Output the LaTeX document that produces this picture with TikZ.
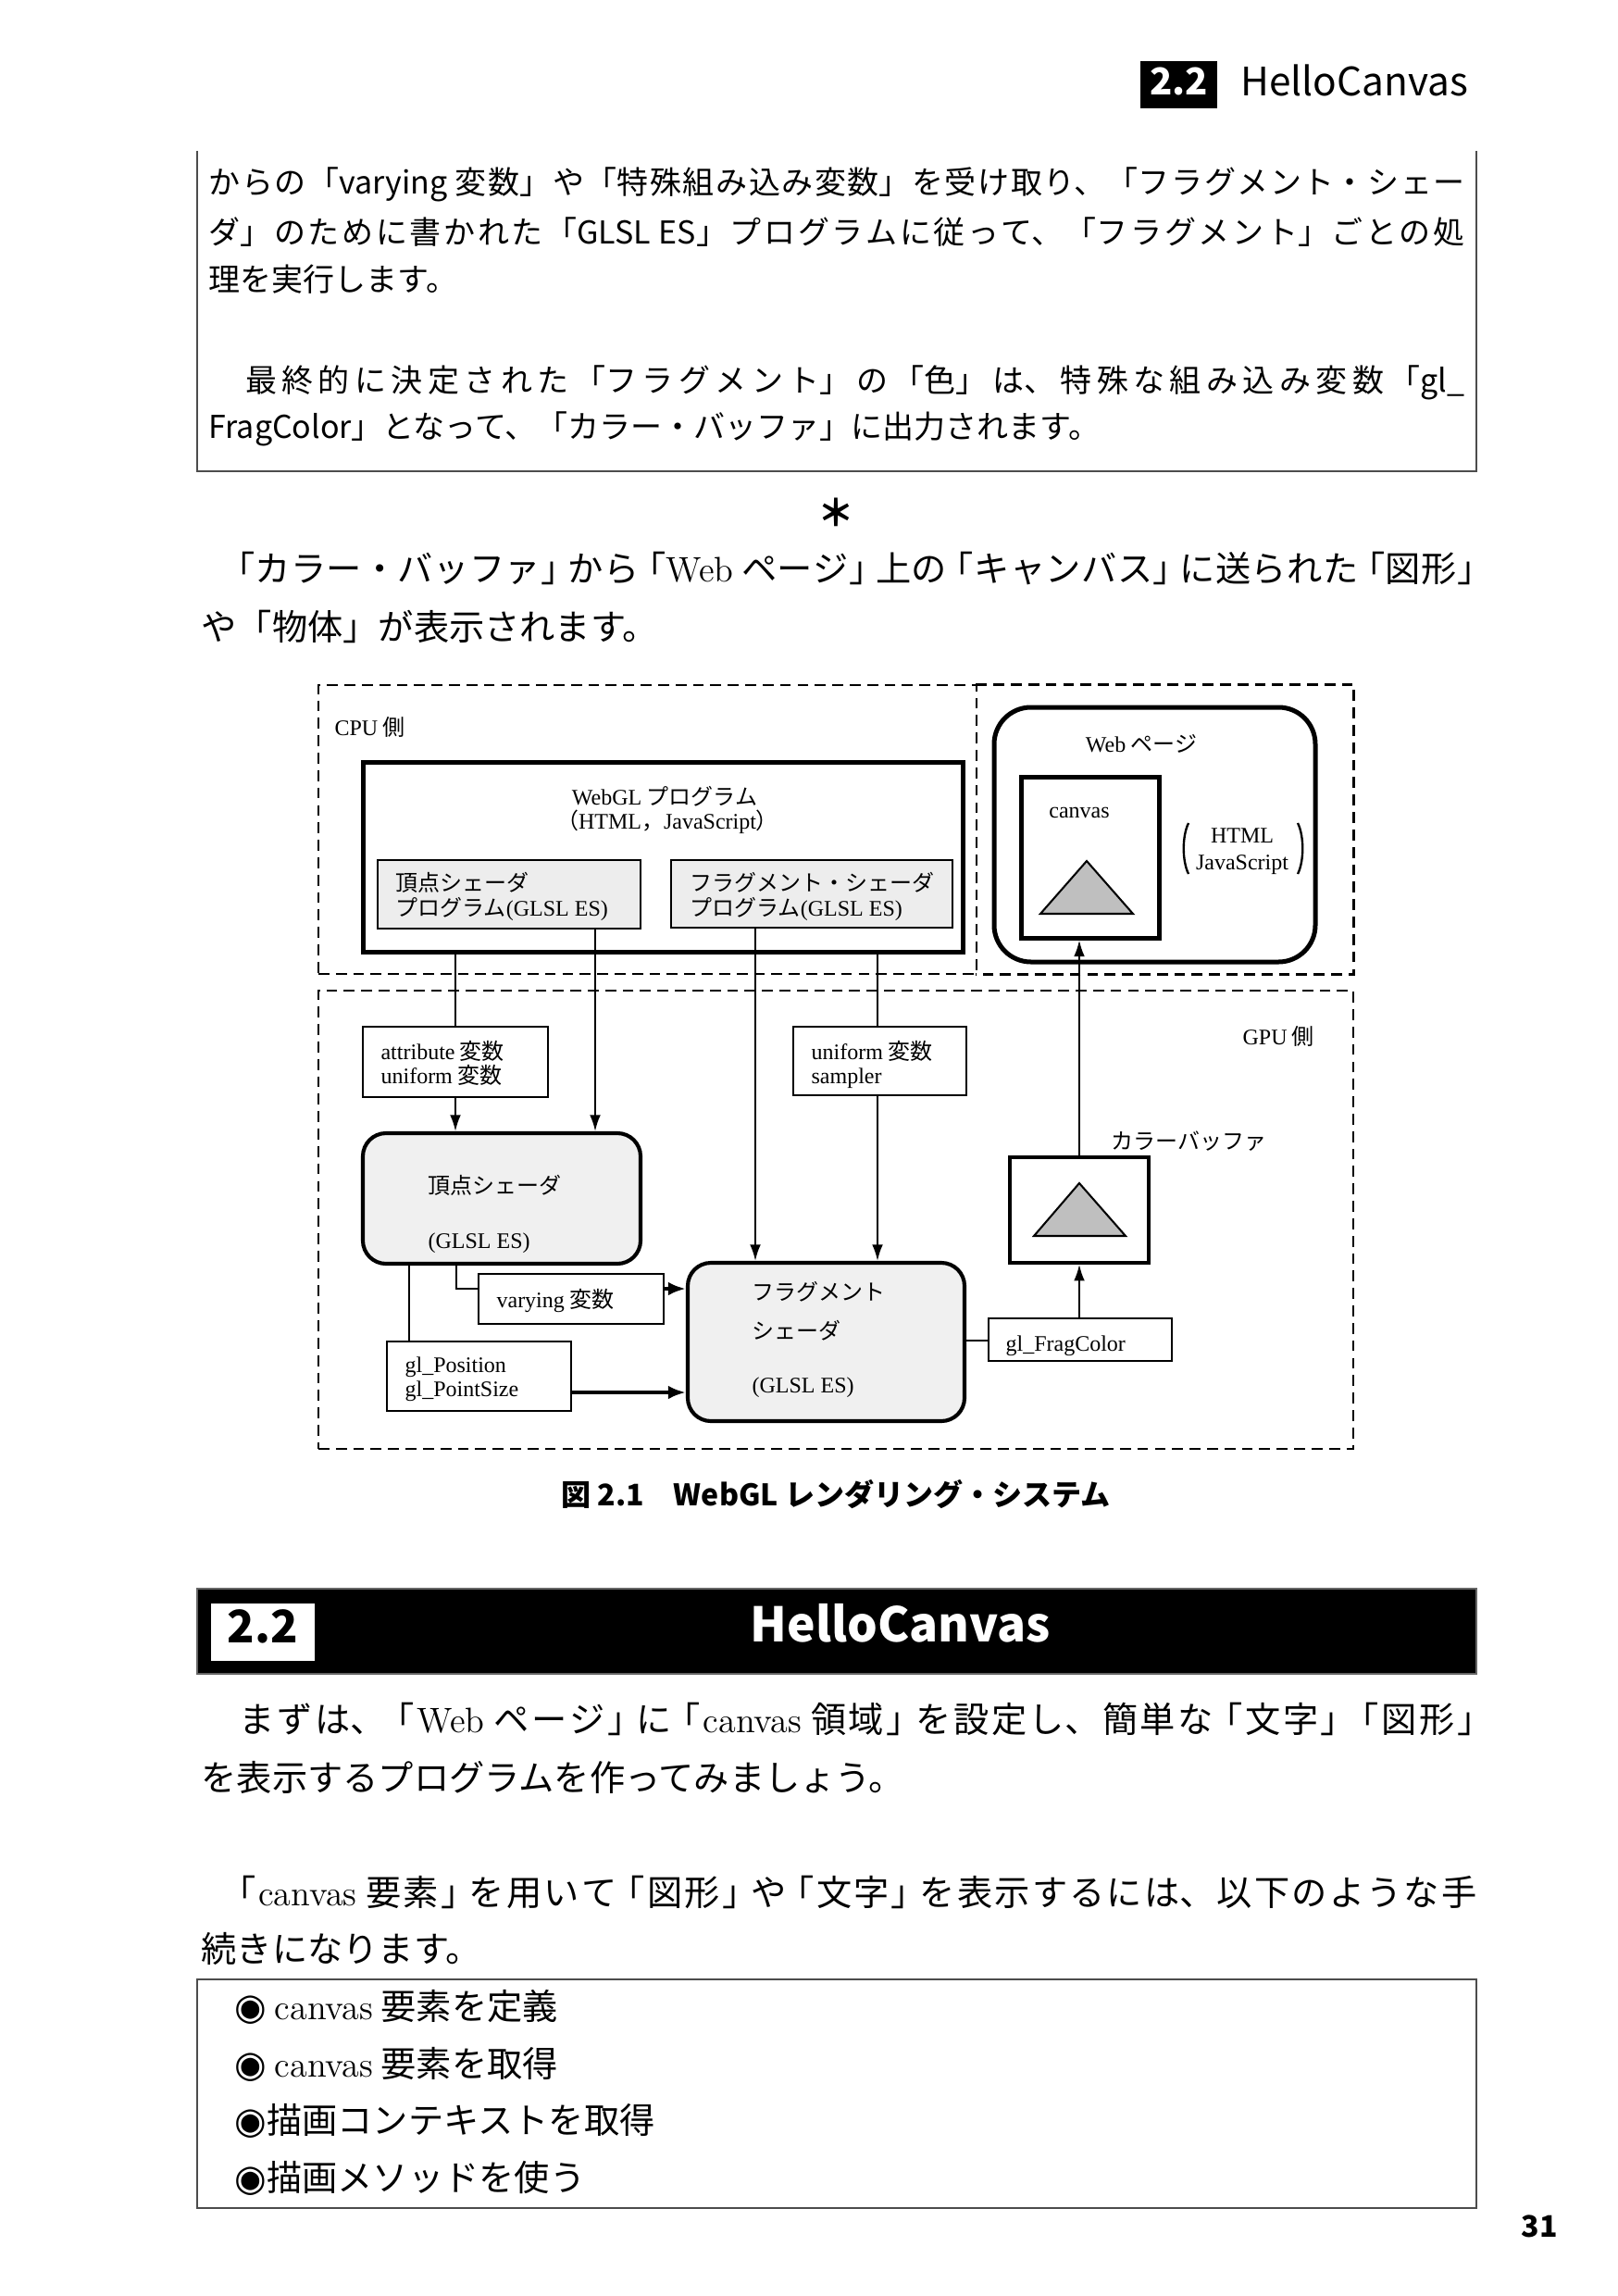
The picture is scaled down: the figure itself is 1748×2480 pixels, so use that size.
\documentclass[tikz,border=0pt]{standalone}
\usepackage{fontspec}
\setmainfont{Noto Sans CJK JP}
\newfontfamily\lat{Latin Modern Roman}
\newfontfamily\dl{Liberation Serif}
\newfontfamily\sym{DejaVu Sans}
\usetikzlibrary{arrows.meta,fit,calc}
\XeTeXlinebreaklocale "ja"
\XeTeXlinebreakskip=0pt plus 3pt minus 0.5pt
\XeTeXlinebreakpenalty=0
\newcommand\jg{\hskip 0pt plus 3pt minus 0.5pt\relax}
\newcommand\Lb{\jg\makebox[0.75em][r]{「}\jg}
\newcommand\Rb{\jg\makebox[0.75em][l]{」}\jg}
\begin{document}
\begin{tikzpicture}[x=0.34pt,y=-0.34pt,
  T/.style={inner sep=0pt,text height=0.88em,text depth=0.12em},
  dg/.style={T,anchor=west,font=\fontsize{8.16pt}{10pt}\selectfont},
  dgc/.style={T,anchor=center,font=\fontsize{8.16pt}{10pt}\selectfont},
  topl/.style={T,anchor=west,font=\fontsize{11.56pt}{14pt}\selectfont},
  bodyl/.style={T,anchor=west,font=\fontsize{13pt}{15pt}\selectfont},
  dpat/.style={dash pattern=on 4pt off 2.4pt,line width=0.9pt},
  dbox/.style={draw,dpat,inner sep=0pt},
  thickbox/.style={draw,line width=1.7pt,inner sep=0pt},
  thinbox/.style={draw,line width=0.9pt,inner sep=0pt},
  prog/.style={draw,line width=0.9pt,fill=black!7,inner sep=0pt},
  shader/.style={draw,line width=1.4pt,fill=black!6,rounded corners=8.5pt,inner sep=0pt},
  conn/.style={line width=0.7pt},
  arr/.style={conn,-{Latex[length=6pt,width=4pt]}},
  tarr/.style={line width=1.4pt,-{Latex[length=6.5pt,width=5pt]}},
  tri/.style={line width=0.7pt,fill=black!25,line join=miter}
]
\fill[white] (0,0) rectangle (1748,2480);
\useasboundingbox (0,0) rectangle (1748,2480);

% ---------- running header
\node[fill=black,inner sep=0pt,fit={(1232,66) (1315,117)}] (hnum) {};
\node[T,text=white,font=\bfseries\fontsize{13.6pt}{14pt}\selectfont] (hnumt) at (hnum.center) {2.2};
\node[T,anchor=west,font=\fontsize{14.4pt}{15pt}\selectfont] (htitle) at (1340,92) {HelloCanvas};

% ---------- top (continued) box
\draw[line width=0.6pt,black!70] (213,163) |- (1595,509) -- (1595,163);
\node[topl,text width=461.4pt,align=justify] (t1) at (225,198) {\noindent\parfillskip=0pt\relax からの「varying 変数」や「特殊組み込み変数」を受け取り、「フラグメント・シェー\par};
\node[topl,text width=461.4pt,align=justify] (t2) at (225,252) {\noindent\parfillskip=0pt\relax ダ」のために書かれた「GLSL ES」プログラムに従って、「フラグメント」ごとの処\par};
\node[topl] (t3) at (225,303) {理を実行します。};
\node[topl,text width=461.4pt,align=justify] (t4) at (225,412) {\noindent\parfillskip=0pt\relax 　最終的に決定された「フラグメント」の「色」は、特殊な組み込み変数「gl\_\par};
\node[topl] (t5) at (225,462) {FragColor」となって、「カラー・バッファ」に出力されます。};

% ---------- asterisk and paragraph
\node[T,font=\bfseries\fontsize{13.5pt}{14pt}\selectfont] (ast) at (903,557) {＊};
\node[bodyl,text width=471pt,align=justify] (b1) at (217,617) {\noindent\parfillskip=0pt\relax\hspace*{0.75em}\Lb カラー・バッファ\Rb から\Lb{\lat Web} ページ\Rb 上の\Lb キャンバス\Rb に送られた\Lb 図形\Rb\par};
\node[bodyl] (b2) at (217,680) {や「物体」が表示されます。};

% ---------- diagram: dashed regions
\node[dbox,fit={(344,740) (1055,1052)}] (cpu) {};
\node[inner sep=0pt,fit={(1055,740) (1462,1052)}] (webarea) {};
\draw[dpat] (webarea.north west) -| (webarea.south east) -- (webarea.south west);
\node[dbox,fit={(344,1070) (1462,1565)}] (gpu) {};

% ---------- diagram: boxes
\node[thickbox,fit={(392,823) (1040,1028)}] (webgl) {};
\node[prog,fit={(408,929) (692,1003)}] (vprog) {};
\node[prog,fit={(725,929) (1029,1002)}] (fprog) {};
\node[thickbox,rounded corners=13.5pt,fit={(1074,764) (1421,1039)}] (webpage) {};
\node[thickbox,fit={(1103,839) (1252,1013)}] (cvs) {};
\node[thinbox,fit={(392,1109) (592,1185)}] (attr) {};
\node[thinbox,fit={(857,1109) (1044,1183)}] (unif) {};
\node[shader,fit={(392,1224) (692,1365)}] (vsh) {};
\node[shader,fit={(743,1364) (1042,1535)}] (fsh) {};
\node[thinbox,fit={(517,1376) (717,1430)}] (vary) {};
\node[thinbox,fit={(418,1449) (617,1524)}] (glpos) {};
\node[thinbox,fit={(1068,1424) (1266,1470)}] (fragc) {};
\node[draw,line width=1.2pt,inner sep=0pt,fit={(1091,1250) (1241,1364)}] (cbuf) {};

% triangles and parentheses
\draw[tri] (1174,930) -- (1224,987) -- (1124,987) -- cycle;
\draw[tri] (1166,1278) -- (1216,1335) -- (1117,1335) -- cycle;
\draw[line width=0.8pt] (1284,889) .. controls (1277,903) and (1277,930) .. (1284,944);
\draw[line width=0.8pt] (1402,889) .. controls (1409,903) and (1409,930) .. (1402,944);

% ---------- diagram: texts
\node[dg] (tcpu) at (361,783) {{\dl CPU} 側};
\node[dgc] (twebgl) at (718,858) {{\dl WebGL} プログラム};
\node[dgc] (thtml) at (721,884) {（{\dl HTML}，{\dl JavaScript}）};
\node[dg] (tvp1) at (427,951) {頂点シェーダ};
\node[dg] (tvp2) at (427,978) {プログラム{\dl (GLSL ES)}};
\node[dg] (tfp1) at (745,951) {フラグメント・シェーダ};
\node[dg] (tfp2) at (745,978) {プログラム{\dl (GLSL ES)}};
\node[dgc] (tweb) at (1233,801) {{\dl Web} ページ};
\node[dgc] (tcvs) at (1166,872) {\dl canvas};
\node[dgc] (th1) at (1342,899) {\dl HTML};
\node[dgc] (th2) at (1342,928) {\dl JavaScript};
\node[dg] (ta1) at (411,1133) {{\dl attribute} 変数};
\node[dg] (ta2) at (411,1159) {{\dl uniform} 変数};
\node[dg] (tu1) at (876,1133) {{\dl uniform} 変数};
\node[dg] (tu2) at (876,1159) {\dl sampler};
\node[dg] (tgpu) at (1342,1117) {{\dl GPU} 側};
\node[dg] (tcb) at (1200,1230) {カラーバッファ};
\node[dg] (tvs1) at (462,1278) {頂点シェーダ};
\node[dg] (tvs2) at (462,1337) {\dl (GLSL ES)};
\node[dg] (tfs1) at (812,1393) {フラグメント};
\node[dg] (tfs2) at (812,1435) {シェーダ};
\node[dg] (tfs3) at (812,1493) {\dl (GLSL ES)};
\node[dg] (tvy) at (536,1401) {{\dl varying} 変数};
\node[dg] (tgp1) at (437,1471) {\dl gl\_Position};
\node[dg] (tgp2) at (437,1497) {\dl gl\_PointSize};
\node[dg] (tfc) at (1086,1448) {\dl gl\_FragColor};

% ---------- diagram: connectors
\draw[conn] (webgl.south -| 492,0) -- (attr.north -| 492,0);
\draw[arr] (vprog.south -| 643,0) -- (vsh.north -| 643,0);
\draw[arr] (fprog.south -| 816,0) -- (fsh.north -| 816,0);
\draw[conn] (webgl.south -| 948,0) -- (unif.north -| 948,0);
\draw[arr] (attr.south -| 492,0) -- (vsh.north -| 492,0);
\draw[arr] (unif.south -| 948,0) -- (fsh.north -| 948,0);
\draw[conn] (vsh.south -| 493,0) |- (vary.west |- 0,1392);
\draw[tarr] (vary.east |- 0,1392) -- (fsh.west |- 0,1392);
\draw[conn] (vsh.south -| 442,0) -- (glpos.north -| 442,0);
\draw[tarr] (glpos.east |- 0,1504) -- (fsh.west |- 0,1504);
\draw[conn] (fsh.east |- 0,1448) -- (fragc.west |- 0,1448);
\draw[arr] (fragc.north -| 1166,0) -- (cbuf.south -| 1166,0);
\draw[arr] (cbuf.north -| 1166,0) -- (cvs.south -| 1166,0);

% ---------- caption
\node[T,font=\bfseries\fontsize{10.9pt}{12pt}\selectfont] (cap) at (903,1615) {図 2.1　WebGL レンダリング・システム};

% ---------- section bar
\node[fill=black,draw=black!60,line width=0.5pt,inner sep=0pt,fit={(213,1716) (1595,1808)}] (sbar) {};
\node[fill=white,inner sep=0pt,fit={(228,1732) (340,1794)}] (snum) {};
\node[T,font=\bfseries\fontsize{16.5pt}{18pt}\selectfont] (snumt) at (snum.center) {2.2};
\node[T,text=white,font=\bfseries\fontsize{17.5pt}{18pt}\selectfont] (stitle) at (973,1762) {HelloCanvas};

% ---------- paragraphs after section
\node[bodyl,text width=471pt,align=justify] (s1) at (217,1860) {\noindent\parfillskip=0pt\relax 　まずは、\Lb{\lat Web} ページ\Rb に\Lb{\lat canvas} 領域\Rb を設定し、簡単な\Lb 文字\Rb\Lb 図形\Rb\par};
\node[bodyl] (s2) at (217,1923) {を表示するプログラムを作ってみましょう。};
\node[bodyl,text width=468.5pt,align=justify] (s3) at (217,2047) {\noindent\parfillskip=0pt\relax\hspace*{0.75em}\Lb{\lat canvas} 要素\Rb を用いて\Lb 図形\Rb や\Lb 文字\Rb を表示するには、以下のような手\par};
\node[bodyl] (s4) at (217,2108) {続きになります。};

% ---------- list box
\node[draw=black!70,line width=0.7pt,inner sep=0pt,fit={(213,2138) (1595,2385)}] (lbox) {};
\node[bodyl] (i1) at (253,2170) {{\sym\fontsize{13.5pt}{14pt}\selectfont ◉} {\lat canvas} 要素を定義};
\node[bodyl] (i2) at (253,2232) {{\sym\fontsize{13.5pt}{14pt}\selectfont ◉} {\lat canvas} 要素を取得};
\node[bodyl] (i3) at (253,2293) {{\sym\fontsize{13.5pt}{14pt}\selectfont ◉}描画コンテキストを取得};
\node[bodyl] (i4) at (253,2355) {{\sym\fontsize{13.5pt}{14pt}\selectfont ◉}描画メソッドを使う};

% ---------- page number
\node[T,font=\bfseries\fontsize{10.9pt}{12pt}\selectfont] (pg) at (1663,2405) {31};
\end{tikzpicture}
\end{document}
